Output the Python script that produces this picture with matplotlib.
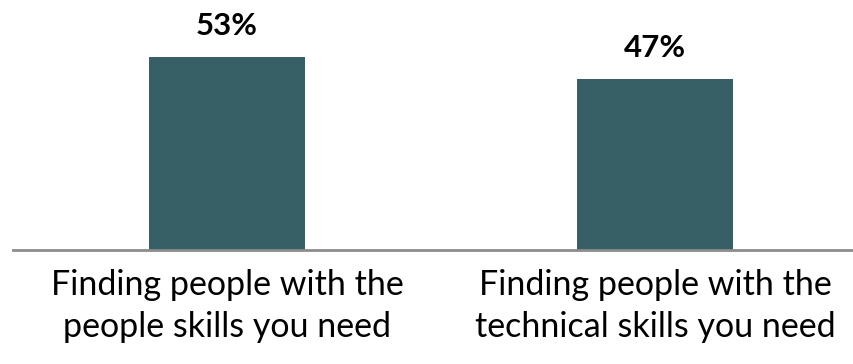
import matplotlib.pyplot as plt

# data
categories = ["Finding people with the\npeople skills you need",
              "Finding people with the\ntechnical skills you need"]
values = [53, 47]

plt.rcParams["font.family"] = ["Lato", "DejaVu Sans"]

fig = plt.figure(figsize=(8.54, 3.64), dpi=100)
ax = fig.add_axes([13 / 854, 114 / 364, 841 / 854, 250 / 364])

x = range(len(values))
bars = ax.bar(x, values, width=0.365, color="#376066")

# value labels above bars
for xi, v in zip(x, values):
    ax.annotate(f"{v}%", (xi, v), xytext=(0, 15.8), textcoords="offset points",
                ha="center", va="baseline",
                fontsize=22.5, fontweight="bold", color="black")

ax.set_xlim(-0.5, 1.465)
ax.set_ylim(0, 68.7)

# no frame except baseline
for side in ["top", "right", "left"]:
    ax.spines[side].set_visible(False)
ax.spines["bottom"].set_color("#8C8C8C")
ax.spines["bottom"].set_linewidth(2)
ax.set_yticks([])
ax.set_xticks(list(x))
ax.set_xticklabels(categories, fontsize=24.5, color="black", linespacing=1.38)
ax.tick_params(axis="x", length=0, pad=13.5)

fig.savefig("out.png", dpi=100)
